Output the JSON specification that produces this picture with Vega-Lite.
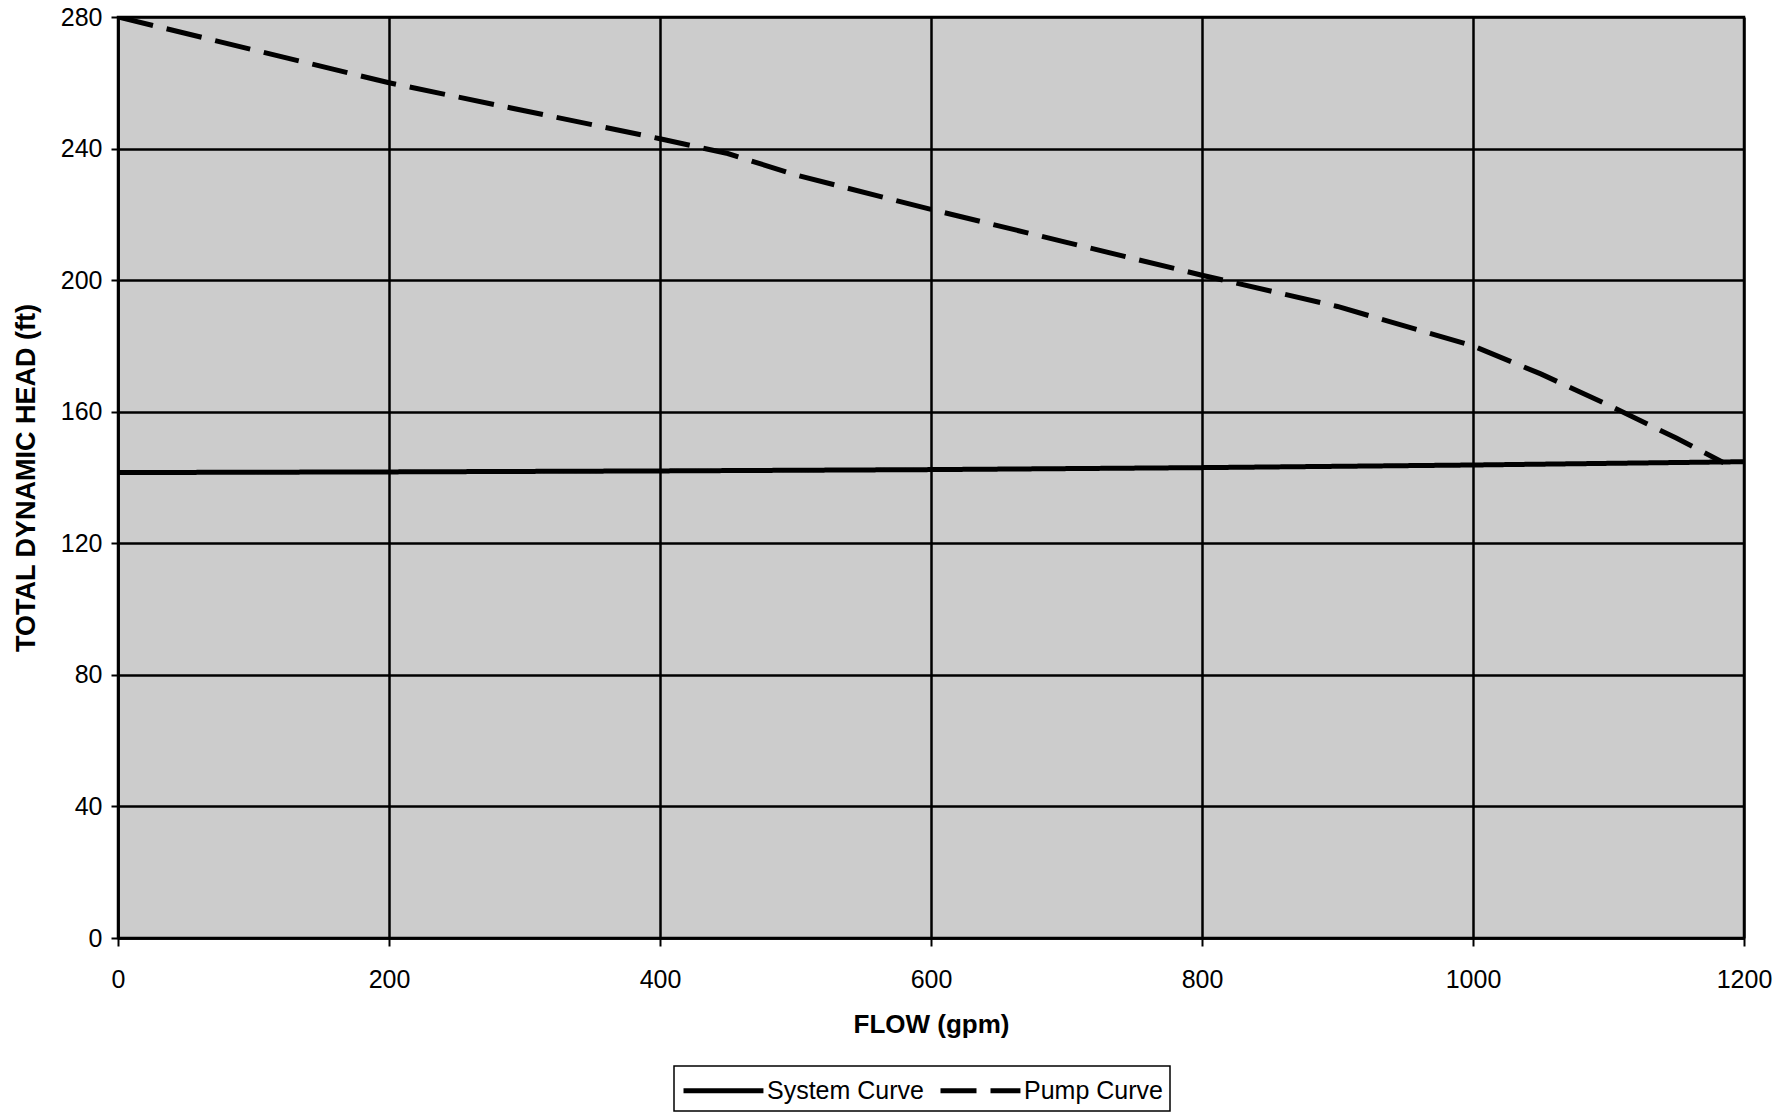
{
  "$schema": "https://vega.github.io/schema/vega-lite/v6.json",
  "autosize": {"type": "none"},
  "padding": {"left": 118, "top": 17, "right": 48, "bottom": 175},
  "width": 1626,
  "height": 921,
  "background": "white",
  "config": {
    "font": "Liberation Sans",
    "view": {"fill": "#cccccc", "stroke": "black", "strokeWidth": 2.5},
    "axis": {
      "grid": true,
      "gridColor": "black",
      "gridOpacity": 1,
      "gridWidth": 2.5,
      "domainColor": "black",
      "domainWidth": 2.5,
      "tickColor": "black",
      "tickWidth": 2,
      "tickSize": 8,
      "labelColor": "black",
      "labelFont": "Liberation Sans",
      "labelFontSize": 25,
      "titleColor": "black",
      "titleFont": "Liberation Sans",
      "titleFontSize": 26,
      "titleFontWeight": "bold"
    }
  },
  "data": {
    "values": [
      {"flow": 0, "head": 141.5, "series": "System Curve"},
      {"flow": 200, "head": 141.7, "series": "System Curve"},
      {"flow": 400, "head": 142.0, "series": "System Curve"},
      {"flow": 600, "head": 142.4, "series": "System Curve"},
      {"flow": 800, "head": 143.0, "series": "System Curve"},
      {"flow": 1000, "head": 143.8, "series": "System Curve"},
      {"flow": 1200, "head": 144.8, "series": "System Curve"},
      {"flow": 0, "head": 280, "series": "Pump Curve"},
      {"flow": 100, "head": 270, "series": "Pump Curve"},
      {"flow": 200, "head": 260, "series": "Pump Curve"},
      {"flow": 300, "head": 251.5, "series": "Pump Curve"},
      {"flow": 400, "head": 243, "series": "Pump Curve"},
      {"flow": 450, "head": 238.5, "series": "Pump Curve"},
      {"flow": 500, "head": 232, "series": "Pump Curve"},
      {"flow": 600, "head": 221.5, "series": "Pump Curve"},
      {"flow": 700, "head": 211.5, "series": "Pump Curve"},
      {"flow": 800, "head": 201.5, "series": "Pump Curve"},
      {"flow": 900, "head": 192, "series": "Pump Curve"},
      {"flow": 1000, "head": 180, "series": "Pump Curve"},
      {"flow": 1050, "head": 171.5, "series": "Pump Curve"},
      {"flow": 1100, "head": 162, "series": "Pump Curve"},
      {"flow": 1150, "head": 152, "series": "Pump Curve"},
      {"flow": 1185, "head": 144.5, "series": "Pump Curve"}
    ]
  },
  "mark": {"type": "line", "stroke": "black", "strokeWidth": 5, "clip": true},
  "encoding": {
    "x": {
      "field": "flow",
      "type": "quantitative",
      "scale": {"domain": [0, 1200], "nice": false, "zero": false},
      "axis": {
        "values": [0, 200, 400, 600, 800, 1000, 1200],
        "format": "d",
        "title": "FLOW (gpm)",
        "labelPadding": 21,
        "titlePadding": 19,
        "labelFlush": false
      }
    },
    "y": {
      "field": "head",
      "type": "quantitative",
      "scale": {"domain": [0, 280], "nice": false, "zero": false},
      "axis": {
        "values": [0, 40, 80, 120, 160, 200, 240, 280],
        "format": "d",
        "title": "TOTAL DYNAMIC HEAD (ft)",
        "titleFontSize": 27,
        "tickSize": 7,
        "labelPadding": 9,
        "titlePadding": 20,
        "labelFlush": false
      }
    },
    "strokeDash": {
      "field": "series",
      "type": "nominal",
      "scale": {"domain": ["System Curve", "Pump Curve"], "range": [[1, 0], [36, 14]]},
      "legend": {
        "title": null,
        "orient": "none",
        "direction": "horizontal",
        "legendX": 556,
        "legendY": 1049,
        "strokeColor": "black",
        "fillColor": "white",
        "padding": 7,
        "symbolType": "M-1,0H4.33",
        "symbolSize": 900,
        "symbolStrokeWidth": 5,
        "symbolStrokeColor": "black",
        "symbolFillColor": "transparent",
        "labelFontSize": 25,
        "labelFont": "Liberation Sans",
        "labelColor": "black",
        "labelOffset": 51,
        "columnPadding": 6,
        "encode": {"legend": {"update": {"strokeWidth": {"value": 1.5}}}}
      }
    }
  }
}
